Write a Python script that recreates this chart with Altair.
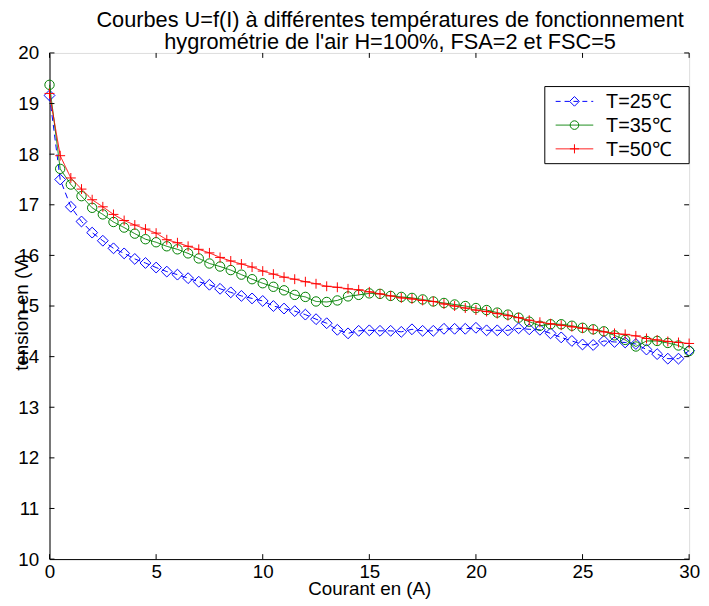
import altair as alt
import pandas as pd

# ---------------- data ----------------
current_A = [0, 0.5, 1, 1.5, 2, 2.5, 3, 3.5, 4, 4.5, 5,
             5.5, 6, 6.5, 7, 7.5, 8, 8.5, 9, 9.5, 10,
             10.5, 11, 11.5, 12, 12.5, 13, 13.5, 14, 14.5, 15,
             15.5, 16, 16.5, 17, 17.5, 18, 18.5, 19, 19.5, 20,
             20.5, 21, 21.5, 22, 22.5, 23, 23.5, 24, 24.5, 25,
             25.5, 26, 26.5, 27, 27.5, 28, 28.5, 29, 29.5, 30]

u_25 = [19.16, 17.50, 16.96, 16.67, 16.45, 16.29, 16.14, 16.04, 15.93, 15.85, 15.76,
        15.68, 15.62, 15.55, 15.48, 15.42, 15.34, 15.27, 15.20, 15.15, 15.10,
        15.00, 14.95, 14.90, 14.83, 14.74, 14.66, 14.53, 14.46, 14.51, 14.52,
        14.51, 14.51, 14.49, 14.54, 14.51, 14.51, 14.55, 14.55, 14.55, 14.57,
        14.52, 14.52, 14.52, 14.56, 14.54, 14.53, 14.46, 14.38, 14.31, 14.24,
        14.23, 14.31, 14.29, 14.28, 14.25, 14.14, 14.05, 13.96, 13.96, 14.12]

u_35 = [19.37, 17.71, 17.40, 17.17, 16.94, 16.81, 16.66, 16.55, 16.43, 16.32, 16.26,
        16.18, 16.12, 16.04, 15.94, 15.84, 15.78, 15.71, 15.62, 15.53, 15.45,
        15.38, 15.31, 15.22, 15.18, 15.09, 15.08, 15.11, 15.19, 15.22, 15.25,
        15.24, 15.20, 15.18, 15.16, 15.13, 15.09, 15.06, 15.03, 15.00, 14.96,
        14.92, 14.87, 14.83, 14.77, 14.69, 14.61, 14.64, 14.64, 14.61, 14.57,
        14.54, 14.50, 14.42, 14.33, 14.20, 14.31, 14.31, 14.27, 14.22, 14.11]

u_50 = [19.20, 17.97, 17.53, 17.31, 17.10, 16.96, 16.81, 16.69, 16.60, 16.52, 16.44,
        16.31, 16.25, 16.18, 16.12, 16.05, 15.96, 15.89, 15.83, 15.77, 15.69,
        15.63, 15.57, 15.53, 15.48, 15.44, 15.39, 15.37, 15.34, 15.32, 15.28,
        15.24, 15.20, 15.16, 15.14, 15.11, 15.09, 15.04, 15.00, 14.96, 14.92,
        14.89, 14.85, 14.81, 14.77, 14.72, 14.68, 14.65, 14.62, 14.59, 14.56,
        14.53, 14.49, 14.46, 14.44, 14.41, 14.36, 14.33, 14.30, 14.28, 14.26]

series_labels = ["T=25\u2103", "T=35\u2103", "T=50\u2103"]
x_tick_values = [0, 5, 10, 15, 20, 25, 30]
y_tick_values = [10, 11, 12, 13, 14, 15, 16, 17, 18, 19, 20]

title_lines = ["Courbes U=f(I) \u00e0 diff\u00e9rentes temp\u00e9ratures de fonctionnement",
               "hygrom\u00e9trie de l'air H=100%, FSA=2 et FSC=5"]

# ---------------- layout / style ----------------
W, H = 647, 512
FONT = "Liberation Sans"
BLUE, GREEN, RED = "#0000FF", "#008000", "#FF0000"
PLUS = "M-1,0H1M0,-1V1"

xscale = alt.Scale(domain=[0, 30], nice=False, zero=False)
yscale = alt.Scale(domain=[10, 20], nice=False, zero=False)

xaxis = alt.Axis(values=x_tick_values, ticks=False, grid=False, domainColor="black",
                 labelFont=FONT, labelFontSize=19, labelColor="black", labelPadding=4,
                 labelFlush=False, labelOverlap=False,
                 title="Courant en (A)", titleFont=FONT, titleFontSize=19,
                 titleFontWeight="normal", titleColor="black",
                 titleX=W / 2, titleY=36, titleBaseline="alphabetic", titleAnchor="middle")
yaxis = alt.Axis(values=y_tick_values, ticks=False, grid=False, domainColor="black",
                 labelFont=FONT, labelFontSize=19, labelColor="black", labelPadding=11,
                 labelFlush=False, labelOverlap=False,
                 title="tension en (V)", titleFont=FONT, titleFontSize=19,
                 titleFontWeight="normal", titleColor="black",
                 titleX=-28, titleY=262, titleAngle=-90, titleBaseline="middle",
                 titleAnchor="middle")

def series_layers(ys, color, shape, dash, size):
    df = pd.DataFrame({"I": current_A, "U": ys})
    base = alt.Chart(df)
    line = base.mark_line(color=color, strokeWidth=1, strokeDash=dash).encode(
        x=alt.X("I:Q", scale=xscale, axis=xaxis),
        y=alt.Y("U:Q", scale=yscale, axis=yaxis))
    pts = base.mark_point(color=color, shape=shape, filled=False, size=size,
                          strokeWidth=1, opacity=1).encode(
        x=alt.X("I:Q", scale=xscale), y=alt.Y("U:Q", scale=yscale))
    return [line, pts]

layers = []
layers += series_layers(u_25, BLUE, "diamond", [6, 4], 120)
layers += series_layers(u_35, GREEN, "circle", [1, 0], 90)
layers += series_layers(u_50, RED, PLUS, [1, 0], 100)

# inward ticks (MATLAB style, on all four sides)
xt = pd.DataFrame({"I": x_tick_values})
yt = pd.DataFrame({"U": y_tick_values})
tick_len = 5
layers.append(alt.Chart(xt).mark_rule(color="black", strokeWidth=1).encode(
    x=alt.X("I:Q", scale=xscale), y=alt.value(H), y2=alt.value(H - tick_len)))
layers.append(alt.Chart(xt).mark_rule(color="black", strokeWidth=1).encode(
    x=alt.X("I:Q", scale=xscale), y=alt.value(0), y2=alt.value(tick_len)))
layers.append(alt.Chart(yt).mark_rule(color="black", strokeWidth=1).encode(
    y=alt.Y("U:Q", scale=yscale), x=alt.value(0), x2=alt.value(tick_len)))
layers.append(alt.Chart(yt).mark_rule(color="black", strokeWidth=1).encode(
    y=alt.Y("U:Q", scale=yscale), x=alt.value(W - tick_len), x2=alt.value(W)))

# legend (manual, MATLAB style)
leg_df = pd.DataFrame({"label": series_labels})
box = alt.Chart(leg_df.head(1)).mark_rect(fill="white", stroke="black", strokeWidth=1).encode(
    x=alt.value(501), x2=alt.value(W), y=alt.value(34), y2=alt.value(112))
layers.append(box)
row_y = [49, 73, 97]
styles = [(BLUE, "diamond", [5, 4], 95), (GREEN, "circle", [1, 0], 75), (RED, PLUS, [1, 0], 85)]
for i, (color, shape, dash, size) in enumerate(styles):
    d = leg_df.iloc[[i]]
    layers.append(alt.Chart(d).mark_rule(color=color, strokeWidth=1, strokeDash=dash).encode(
        x=alt.value(512), x2=alt.value(550), y=alt.value(row_y[i])))
    layers.append(alt.Chart(d).mark_point(color=color, shape=shape, filled=False, size=size,
                                          strokeWidth=1, opacity=1).encode(
        x=alt.value(531), y=alt.value(row_y[i])))
    layers.append(alt.Chart(d).mark_text(align="left", baseline="middle", font=FONT,
                                         fontSize=20, color="black").encode(
        x=alt.value(563), y=alt.value(row_y[i] + 1), text="label:N"))

chart = alt.layer(*layers).properties(
    width=W, height=H,
    title=alt.TitleParams(text=title_lines, font=FONT, fontSize=22, fontWeight="normal",
                          color="black", anchor="middle", lineHeight=22.5, offset=0,
                          dy=10, dx=21),
    autosize=alt.AutoSizeParams(type="none"),
    padding={"left": 42, "top": 42, "right": 12, "bottom": 45},
).configure_view(stroke="black", strokeWidth=1).configure(background="white")

chart.save("out.html", embed_options={"renderer": "svg", "actions": False})
